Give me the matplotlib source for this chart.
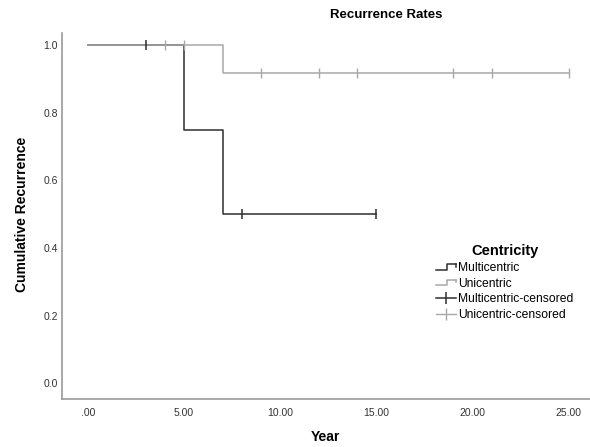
import matplotlib.pyplot as plt
from matplotlib.lines import Line2D
from matplotlib.legend_handler import HandlerBase

plt.rcParams['font.family'] = ['Liberation Sans', 'DejaVu Sans']

# Kaplan-Meier step data
multi_t = [0, 5, 5, 7, 7, 15]
multi_s = [1.0, 1.0, 0.75, 0.75, 0.5, 0.5]
uni_t = [0, 7, 7, 25]
uni_s = [1.0, 1.0, 0.917, 0.917]

# censored points
multi_cens_t = [3, 8, 15]
multi_cens_s = [1.0, 0.5, 0.5]
uni_cens_t = [4, 5, 9, 12, 14, 19, 21, 25]
uni_cens_s = [1.0, 1.0, 0.917, 0.917, 0.917, 0.917, 0.917, 0.917]

xticks = [0, 5, 10, 15, 20, 25]
xticklabels = [".00", "5.00", "10.00", "15.00", "20.00", "25.00"]
yticks = [0.0, 0.2, 0.4, 0.6, 0.8, 1.0]

dark = "#2e2e2e"
light = "#a8a8a8"


class StepHandler(HandlerBase):
    # small step icon like the SPSS legend
    def create_artists(self, legend, orig, xd, yd, w, h, fontsize, trans):
        xs = [xd, xd + w * 0.55, xd + w * 0.55, xd + w]
        ys = [yd + h * 0.15, yd + h * 0.15, yd + h * 0.85, yd + h * 0.85]
        ln = Line2D(xs, ys, color=orig.get_color(), lw=1.1, transform=trans)
        ln2 = Line2D([xd + w, xd + w], [yd + h * 0.85, yd + h * 0.5],
                     color=orig.get_color(), lw=1.1, transform=trans)
        return [ln, ln2]


fig = plt.figure(figsize=(5.9, 4.47), dpi=100)
ax = fig.add_axes([0.105, 0.107, 0.895, 0.819])

ax.plot(multi_t, multi_s, color=dark, lw=1.1)
ax.plot(uni_t, uni_s, color=light, lw=1.1)
ax.plot(multi_cens_t, multi_cens_s, ls="none", marker="|", ms=7, mew=1.1, color=dark)
ax.plot(uni_cens_t, uni_cens_s, ls="none", marker="|", ms=7, mew=1.0, color=light)

ax.set_xlim(-1.35, 26.1)
ax.set_ylim(-0.047, 1.035)
ax.set_xticks(xticks)
ax.set_xticklabels(xticklabels)
ax.set_yticks(yticks)
ax.set_yticklabels(["%.1f" % v for v in yticks])
ax.tick_params(length=0, labelsize=7.5, colors="#333333")
ax.tick_params(axis="x", pad=6)
ax.tick_params(axis="y", pad=3)
for s in ["top", "right"]:
    ax.spines[s].set_visible(False)
for s in ["left", "bottom"]:
    ax.spines[s].set_color("#999999")
    ax.spines[s].set_linewidth(1.2)

fig.text(0.655, 0.966, "Recurrence Rates", ha="center", va="center",
         fontsize=9.5, fontweight="bold")
fig.text(0.551, 0.022, "Year", ha="center", va="center",
         fontsize=10, fontweight="bold")
fig.text(0.037, 0.52, "Cumulative Recurrence", ha="center", va="center",
         rotation=90, fontsize=10, fontweight="bold")

h_multi = Line2D([], [], color=dark)
h_uni = Line2D([], [], color=light)
h_mc = Line2D([], [], color=dark, marker="|", ms=9, mew=1.1, lw=1.1)
h_uc = Line2D([], [], color=light, marker="|", ms=9, mew=1.0, lw=1.0)
leg = ax.legend([h_multi, h_uni, h_mc, h_uc],
                ["Multicentric", "Unicentric", "Multicentric-censored", "Unicentric-censored"],
                handler_map={h_multi: StepHandler(), h_uni: StepHandler()},
                title="Centricity", loc="upper left",
                bbox_to_anchor=(0.725, 0.472), bbox_transform=fig.transFigure,
                frameon=False, fontsize=8.7, handlelength=1.6, handletextpad=0.2,
                labelspacing=0.3, borderpad=0.2)
leg.get_title().set_fontweight("bold")
leg.get_title().set_fontsize(10.5)

fig.savefig("out.png", dpi=100)
